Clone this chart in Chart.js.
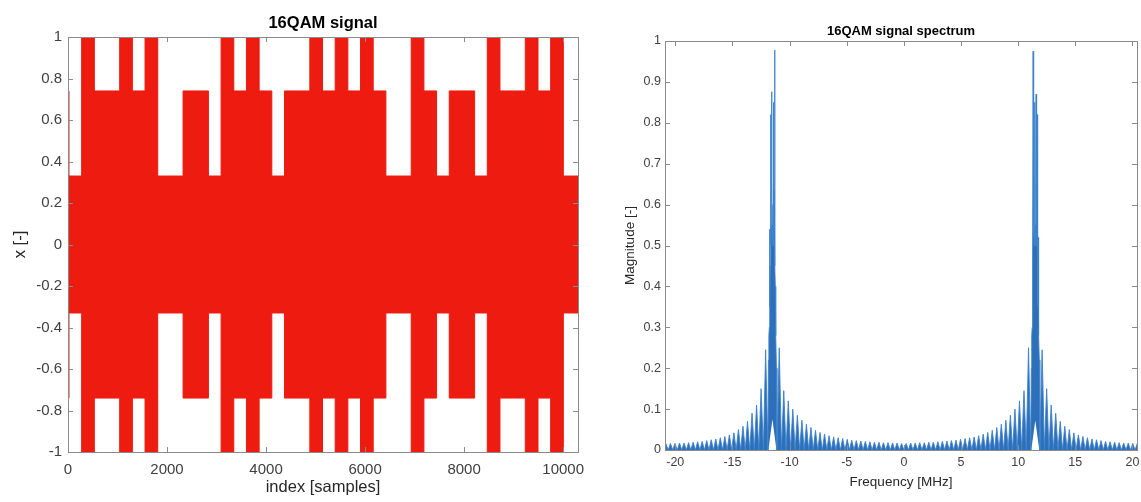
<!DOCTYPE html>
<html lang="en">
<head>
  <meta charset="UTF-8">
  <title>16QAM signal and spectrum</title>
  <script src="https://cdn.jsdelivr.net/npm/chart.js"></script>
  <style>
    html, body { margin: 0; padding: 0; background: #fff; overflow: hidden; }
    #wrap { position: relative; width: 1141px; height: 502px; }
    .panel { position: absolute; top: 0; height: 502px; }
    #left { left: 0; width: 600px; }
    #right { left: 600px; width: 541px; }
  </style>
</head>
<body>
  <div id="wrap">
    <div class="panel" id="left"><canvas id="signalChart"></canvas></div>
    <div class="panel" id="right"><canvas id="spectrumChart"></canvas></div>
  </div>
  <script>
    // ---- time signal: envelope level of each 16QAM symbol ----
    const symbolLen = 256;      // samples per symbol
    const symbolOffset = 20;    // first symbol boundary (filter delay)
    const leadAmp = 0.74;       // tail of the previous symbol at index 0
    const symbolAmp = [0.33, 1, 0.74, 0.74, 1, 0.74, 1, 0.33, 0.33, 0.74,
                       0.74, 0.33, 1, 0.74, 1, 0.74, 0.33, 0.74, 0.74, 1,
                       0.74, 1, 0.74, 1, 0.74, 0.33, 0.33, 1, 0.74, 0.33,
                       0.74, 0.74, 0.33, 1, 0.74, 0.74, 1, 0.74, 1, 0.33];
    const sampleMax = 10300;
    const signalTicksX = [0, 2000, 4000, 6000, 8000, 10000];
    const signalTicksY = [-1, -0.8, -0.6, -0.4, -0.2, 0, 0.2, 0.4, 0.6, 0.8, 1];

    // ---- spectrum: comb of sidelobe teeth (null = slot taken by a main lobe) ----
    const toothStart = -20.82;  // MHz
    const toothStep = 0.3966;   // MHz between teeth
    const toothMag = [
      0.015, 0.016, 0.016, 0.017, 0.017, 0.018, 0.019, 0.02, 0.021, 0.023,
      0.025, 0.027, 0.03, 0.033, 0.037, 0.042, 0.05, 0.058, 0.07, 0.09,
      0.11, 0.15, 0.245,
      null, null,
      0.25, 0.145, 0.12, 0.1, 0.085, 0.073, 0.063, 0.055, 0.048, 0.043,
      0.039, 0.035, 0.032, 0.03, 0.028, 0.026, 0.024, 0.023, 0.022, 0.021,
      0.02, 0.019, 0.019, 0.018, 0.018, 0.017, 0.017, 0.016,
      0.016, 0.017, 0.017, 0.018, 0.018, 0.019, 0.019, 0.02, 0.021, 0.022,
      0.023, 0.024, 0.026, 0.028, 0.03, 0.032, 0.035, 0.039, 0.043, 0.048,
      0.055, 0.063, 0.073, 0.085, 0.1, 0.12, 0.145, 0.25,
      null, null,
      0.245, 0.15, 0.11, 0.09, 0.07, 0.058, 0.05, 0.042, 0.037, 0.033,
      0.03, 0.027, 0.025, 0.023, 0.021, 0.02, 0.019, 0.018, 0.017, 0.017,
      0.016, 0.016, 0.015];
    // main lobes, offsets in MHz from the lobe centre
    const lobeCenter = [-11.5, 11.5];
    const lobeOffset = [-0.397, -0.35, -0.31, -0.27, -0.25, -0.22, -0.19, -0.16, -0.13, -0.10,
                        -0.07, -0.05, -0.03, 0, 0.03, 0.05, 0.07, 0.10, 0.13, 0.16,
                        0.19, 0.22, 0.25, 0.27, 0.31, 0.35, 0.397];
    const lobeMagL = [0, 0.22, 0.28, 0.30, 0.54, 0.35, 0.45, 0.82, 0.5, 0.55,
                      0.876, 0.66, 0.5, 0.55, 0.5, 0.6, 0.85, 0.5, 0.55, 0.635,
                      0.978, 0.45, 0.4, 0.3, 0.28, 0.2, 0];
    const lobeMagR = [0, 0.2, 0.28, 0.3, 0.4, 0.45, 0.975, 0.63, 0.55, 0.5,
                      0.85, 0.6, 0.5, 0.55, 0.5, 0.65, 0.87, 0.55, 0.5, 0.82,
                      0.45, 0.35, 0.52, 0.3, 0.28, 0.22, 0];
    // white gap under the middle of each lobe
    const notchHalfWidth = 0.35;
    const notchHeight = [0.075, 0.072];
    const spectrumTicksX = [-20, -15, -10, -5, 0, 5, 10, 15, 20];
    const spectrumTicksY = [0, 0.1, 0.2, 0.3, 0.4, 0.5, 0.6, 0.7, 0.8, 0.9, 1];
    const freqMin = -20.9, freqMax = 20.4;

    const FONT = '"Liberation Sans", Arial, Helvetica, sans-serif';
    const fmt = v => String(Math.round(v * 10) / 10);

    // envelope points, each held until the next symbol boundary
    function envelope(sign) {
      const pts = [{ x: 0, y: sign * leadAmp }];
      symbolAmp.forEach((a, i) => pts.push({ x: symbolOffset + i * symbolLen, y: sign * a }));
      pts.push({ x: sampleMax, y: sign * symbolAmp[symbolAmp.length - 1] });
      return pts;
    }

    function spectrumPoints() {
      const pts = [];
      const half = toothStep / 2;
      let lobe = 0;
      for (let k = 0; k < toothMag.length; k++) {
        const f = toothStart + k * toothStep;
        const m = toothMag[k];
        if (m === null) {
          const mags = lobe === 0 ? lobeMagL : lobeMagR;
          lobeOffset.forEach((o, i) => pts.push({ x: lobeCenter[lobe] + o, y: mags[i] }));
          lobe++;
          k++;   // one lobe fills two grid slots
        } else {
          pts.push({ x: f - half, y: 0 });
          pts.push({ x: f, y: m });
        }
      }
      pts.push({ x: toothStart + toothMag.length * toothStep - half, y: 0 });
      return pts;
    }

    function notchFloor() {
      const pts = [{ x: freqMin, y: 0 }];
      lobeCenter.forEach((c, i) => {
        pts.push({ x: c - notchHalfWidth, y: 0 });
        pts.push({ x: c, y: notchHeight[i] });
        pts.push({ x: c + notchHalfWidth, y: 0 });
      });
      pts.push({ x: freqMax, y: 0 });
      return pts;
    }

    // MATLAB style box with inward ticks on all four sides, plus axes title
    const boxAxes = {
      id: 'boxAxes',
      afterDraw(chart, args, opts) {
        const { ctx, chartArea: a } = chart;
        const { x, y } = chart.scales;
        const len = opts.len;
        ctx.save();
        ctx.strokeStyle = opts.color;
        ctx.lineWidth = 1;
        ctx.beginPath();
        x.ticks.forEach(t => {
          const px = Math.round(x.getPixelForValue(t.value)) + 0.5;
          ctx.moveTo(px, a.bottom); ctx.lineTo(px, a.bottom - len);
          ctx.moveTo(px, a.top); ctx.lineTo(px, a.top + len);
        });
        y.ticks.forEach(t => {
          const py = Math.round(y.getPixelForValue(t.value)) + 0.5;
          ctx.moveTo(a.left, py); ctx.lineTo(a.left + len, py);
          ctx.moveTo(a.right, py); ctx.lineTo(a.right - len, py);
        });
        ctx.stroke();
        ctx.strokeRect(Math.round(a.left) + 0.5, Math.round(a.top) + 0.5,
                       Math.round(a.right - a.left), Math.round(a.bottom - a.top));
        ctx.fillStyle = '#000';
        ctx.font = 'bold ' + opts.titleSize + 'px ' + FONT;
        ctx.textAlign = 'center';
        ctx.textBaseline = 'middle';
        ctx.fillText(opts.title, (a.left + a.right) / 2, opts.titleY);
        ctx.restore();
      }
    };

    const fixTicks = list => s => { s.ticks = list.map(v => ({ value: v })); };

    // 16QAM time signal
    new Chart(document.getElementById('signalChart'), {
      type: 'line',
      data: {
        datasets: [
          { data: envelope(1), stepped: true, borderColor: '#ee1b11', backgroundColor: '#ee1b11',
            borderWidth: 1, pointRadius: 0, fill: '+1' },
          { data: envelope(-1), stepped: true, borderColor: '#ee1b11', backgroundColor: '#ee1b11',
            borderWidth: 1, pointRadius: 0, fill: false }
        ]
      },
      options: {
        responsive: true,
        maintainAspectRatio: false,
        animation: false,
        layout: { padding: { top: 37, right: 22, left: 0, bottom: 0 } },
        plugins: {
          legend: { display: false },
          tooltip: { enabled: false },
          boxAxes: { len: 5, color: '#8a8a8a', title: '16QAM signal', titleSize: 16.5, titleY: 23.5 }
        },
        scales: {
          x: {
            type: 'linear', min: 0, max: sampleMax,
            grid: { display: false, drawTicks: false },
            border: { display: false },
            afterBuildTicks: fixTicks(signalTicksX),
            ticks: { padding: 9, maxRotation: 0, autoSkip: false, callback: v => String(v),
                     color: '#404040', font: { family: FONT, size: 15 } },
            title: { display: true, text: 'index [samples]', color: '#262626',
                     font: { family: FONT, size: 16.5 }, padding: { top: 0, bottom: 5 } },
            afterFit: s => { s.height = 50; s.paddingLeft = 0; s.paddingRight = 0; }
          },
          y: {
            min: -1, max: 1,
            grid: { display: false, drawTicks: false },
            border: { display: false },
            afterBuildTicks: fixTicks(signalTicksY),
            ticks: { padding: 6, autoSkip: false, callback: fmt,
                     color: '#404040', font: { family: FONT, size: 15 } },
            title: { display: true, text: 'x [-]', color: '#262626',
                     font: { family: FONT, size: 16.5 }, padding: { top: 11, bottom: 0 } },
            afterFit: s => { s.width = 68; s.paddingTop = 0; s.paddingBottom = 0; }
          }
        }
      },
      plugins: [boxAxes]
    });

    // magnitude spectrum
    new Chart(document.getElementById('spectrumChart'), {
      type: 'line',
      data: {
        datasets: [
          { data: spectrumPoints(), borderColor: 'rgba(60,130,205,0.9)', backgroundColor: '#2d6fb8',
            borderWidth: 1, pointRadius: 0, fill: 1, tension: 0 },
          { data: notchFloor(), borderWidth: 0, borderColor: 'rgba(0,0,0,0)',
            pointRadius: 0, fill: false, tension: 0 }
        ]
      },
      options: {
        responsive: true,
        maintainAspectRatio: false,
        animation: false,
        layout: { padding: { top: 41, right: 4, left: 0, bottom: 0 } },
        plugins: {
          legend: { display: false },
          tooltip: { enabled: false },
          boxAxes: { len: 5, color: '#8a8a8a', title: '16QAM signal spectrum', titleSize: 13, titleY: 31 }
        },
        scales: {
          x: {
            type: 'linear', min: freqMin, max: freqMax,
            grid: { display: false, drawTicks: false },
            border: { display: false },
            afterBuildTicks: fixTicks(spectrumTicksX),
            ticks: { padding: 5.5, maxRotation: 0, autoSkip: false, callback: v => String(v),
                     color: '#404040', font: { family: FONT, size: 12.5 } },
            title: { display: true, text: 'Frequency [MHz]', color: '#262626',
                     font: { family: FONT, size: 13.5 }, padding: { top: 0, bottom: 12 } },
            afterFit: s => { s.height = 52; s.paddingLeft = 0; s.paddingRight = 0; }
          },
          y: {
            min: 0, max: 1,
            grid: { display: false, drawTicks: false },
            border: { display: false },
            afterBuildTicks: fixTicks(spectrumTicksY),
            ticks: { padding: 4, autoSkip: false, callback: fmt,
                     color: '#404040', font: { family: FONT, size: 12.5 } },
            title: { display: true, text: 'Magnitude [-]', color: '#262626',
                     font: { family: FONT, size: 13.5 }, padding: { top: 22, bottom: 0 } },
            afterFit: s => { s.width = 65; s.paddingTop = 0; s.paddingBottom = 0; }
          }
        }
      },
      plugins: [boxAxes]
    });
  </script>
</body>
</html>
